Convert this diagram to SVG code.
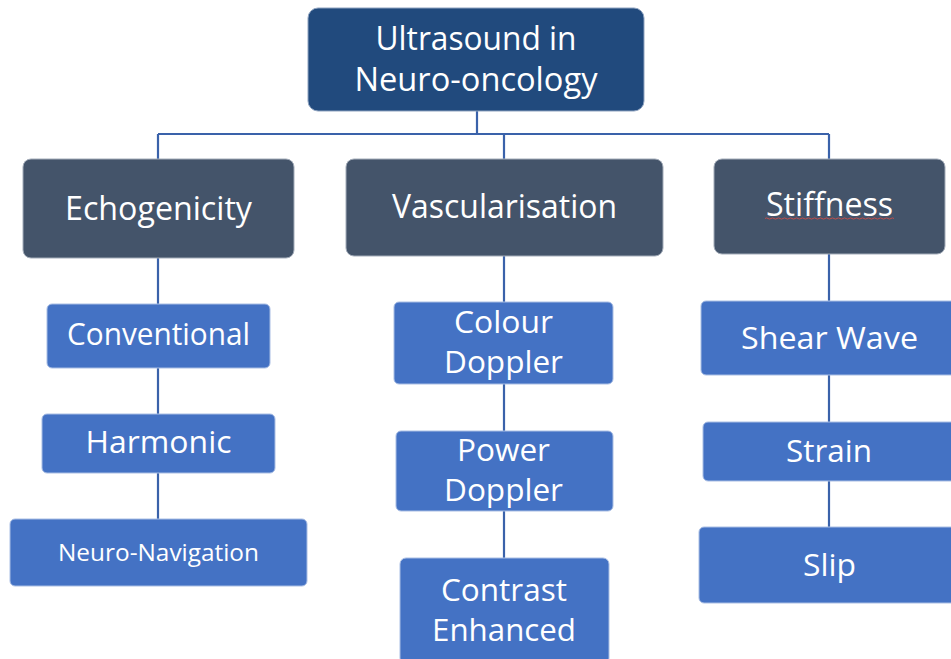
<svg xmlns="http://www.w3.org/2000/svg" width="951" height="659" viewBox="0 0 951 659">
  <style>
    .root { fill: #214A7D; stroke: #8FA3C0; stroke-width: 1; }
    .cat { fill: #44546A; stroke: #A3ACB9; stroke-width: 1; }
    .leaf { fill: #4472C4; stroke: #A9BEE4; stroke-width: 1; }
    .wire { fill: none; stroke: #3A62AA; stroke-width: 2.2; }
    text { font-family: "Open Sans", "Noto Sans", sans-serif; fill: #FFFFFF; text-anchor: middle; }
    .t1 { font-size: 33px; }
    .t2 { font-size: 33px; }
    .t3 { font-size: 31px; }
    .t4 { font-size: 24px; }
  </style>

  <g id="connectors">
    <path class="wire" d="M477 111 V134 M158 134 H829 M158 134 V159 M504 134 V159 M829 134 V159"/>
    <path class="wire" d="M158 258 V304 M158 368 V414 M158 473 V519"/>
    <path class="wire" d="M504 256 V302 M504 384 V431 M504 511 V558"/>
    <path class="wire" d="M829 254 V301 M829 375 V422 M829 481 V527"/>
  </g>

  <g id="node-root">
    <rect class="root" x="308" y="8" width="336" height="103" rx="10"/>
    <text class="t1" x="476" y="50" textLength="201" lengthAdjust="spacingAndGlyphs">Ultrasound in</text>
    <text class="t1" x="476" y="91" textLength="243" lengthAdjust="spacingAndGlyphs">Neuro-oncology</text>
  </g>

  <g id="node-echogenicity">
    <rect class="cat" x="23" y="159" width="271" height="99" rx="8"/>
    <text class="t2" x="158.5" y="220" textLength="187" lengthAdjust="spacingAndGlyphs">Echogenicity</text>
  </g>
  <g id="node-vascularisation">
    <rect class="cat" x="346" y="159" width="317" height="97" rx="8"/>
    <text class="t2" x="504.5" y="218" textLength="225" lengthAdjust="spacingAndGlyphs">Vascularisation</text>
  </g>
  <g id="node-stiffness">
    <rect class="cat" x="714" y="159" width="231" height="95" rx="8"/>
    <text class="t2" x="829.5" y="216" textLength="127" lengthAdjust="spacingAndGlyphs">Stiffness</text>
    <path d="M765 218.5 q1.5 -1.2 3 0 t3 0 t3 0 t3 0 t3 0 t3 0 t3 0 t3 0 t3 0 t3 0 t3 0 t3 0 t3 0 t3 0 t3 0 t3 0 t3 0 t3 0 t3 0 t3 0 t3 0 t3 0 t3 0 t3 0 t3 0 t3 0 t3 0 t3 0 t3 0 t3 0 t3 0 t3 0 t3 0 t3 0 t3 0 t3 0 t3 0 t3 0 t3 0 t3 0 t3 0 t3 0 t3 0" fill="none" stroke="#C0504D" stroke-width="1"/>
  </g>

  <g id="node-conventional">
    <rect class="leaf" x="47" y="304" width="223" height="64" rx="5"/>
    <text class="t3" x="158.5" y="345" textLength="183" lengthAdjust="spacingAndGlyphs">Conventional</text>
  </g>
  <g id="node-harmonic">
    <rect class="leaf" x="42" y="414" width="233" height="59" rx="5"/>
    <text class="t3" x="158.5" y="453" textLength="146" lengthAdjust="spacingAndGlyphs">Harmonic</text>
  </g>
  <g id="node-neuro-navigation">
    <rect class="leaf" x="10" y="519" width="297" height="67" rx="5"/>
    <text class="t4" x="158.5" y="561" textLength="201" lengthAdjust="spacingAndGlyphs">Neuro-Navigation</text>
  </g>

  <g id="node-colour-doppler">
    <rect class="leaf" x="394" y="302" width="219" height="82" rx="5"/>
    <text class="t3" x="503.5" y="333" textLength="99" lengthAdjust="spacingAndGlyphs">Colour</text>
    <text class="t3" x="503.5" y="373" textLength="119" lengthAdjust="spacingAndGlyphs">Doppler</text>
  </g>
  <g id="node-power-doppler">
    <rect class="leaf" x="396" y="431" width="217" height="80" rx="5"/>
    <text class="t3" x="503.5" y="461" textLength="93" lengthAdjust="spacingAndGlyphs">Power</text>
    <text class="t3" x="503.5" y="501" textLength="119" lengthAdjust="spacingAndGlyphs">Doppler</text>
  </g>
  <g id="node-contrast-enhanced">
    <rect class="leaf" x="400" y="558" width="209" height="106" rx="6"/>
    <text class="t3" x="504" y="601" textLength="126" lengthAdjust="spacingAndGlyphs">Contrast</text>
    <text class="t3" x="504" y="641" textLength="144" lengthAdjust="spacingAndGlyphs">Enhanced</text>
  </g>

  <g id="node-shear-wave">
    <rect class="leaf" x="701" y="301" width="257" height="74" rx="5"/>
    <text class="t3" x="829.5" y="349" textLength="177" lengthAdjust="spacingAndGlyphs">Shear Wave</text>
  </g>
  <g id="node-strain">
    <rect class="leaf" x="703" y="422" width="253" height="59" rx="5"/>
    <text class="t3" x="829" y="462" textLength="86" lengthAdjust="spacingAndGlyphs">Strain</text>
  </g>
  <g id="node-slip">
    <rect class="leaf" x="699" y="527" width="261" height="76" rx="5"/>
    <text class="t3" x="829.5" y="576" textLength="53" lengthAdjust="spacingAndGlyphs">Slip</text>
  </g>
</svg>
